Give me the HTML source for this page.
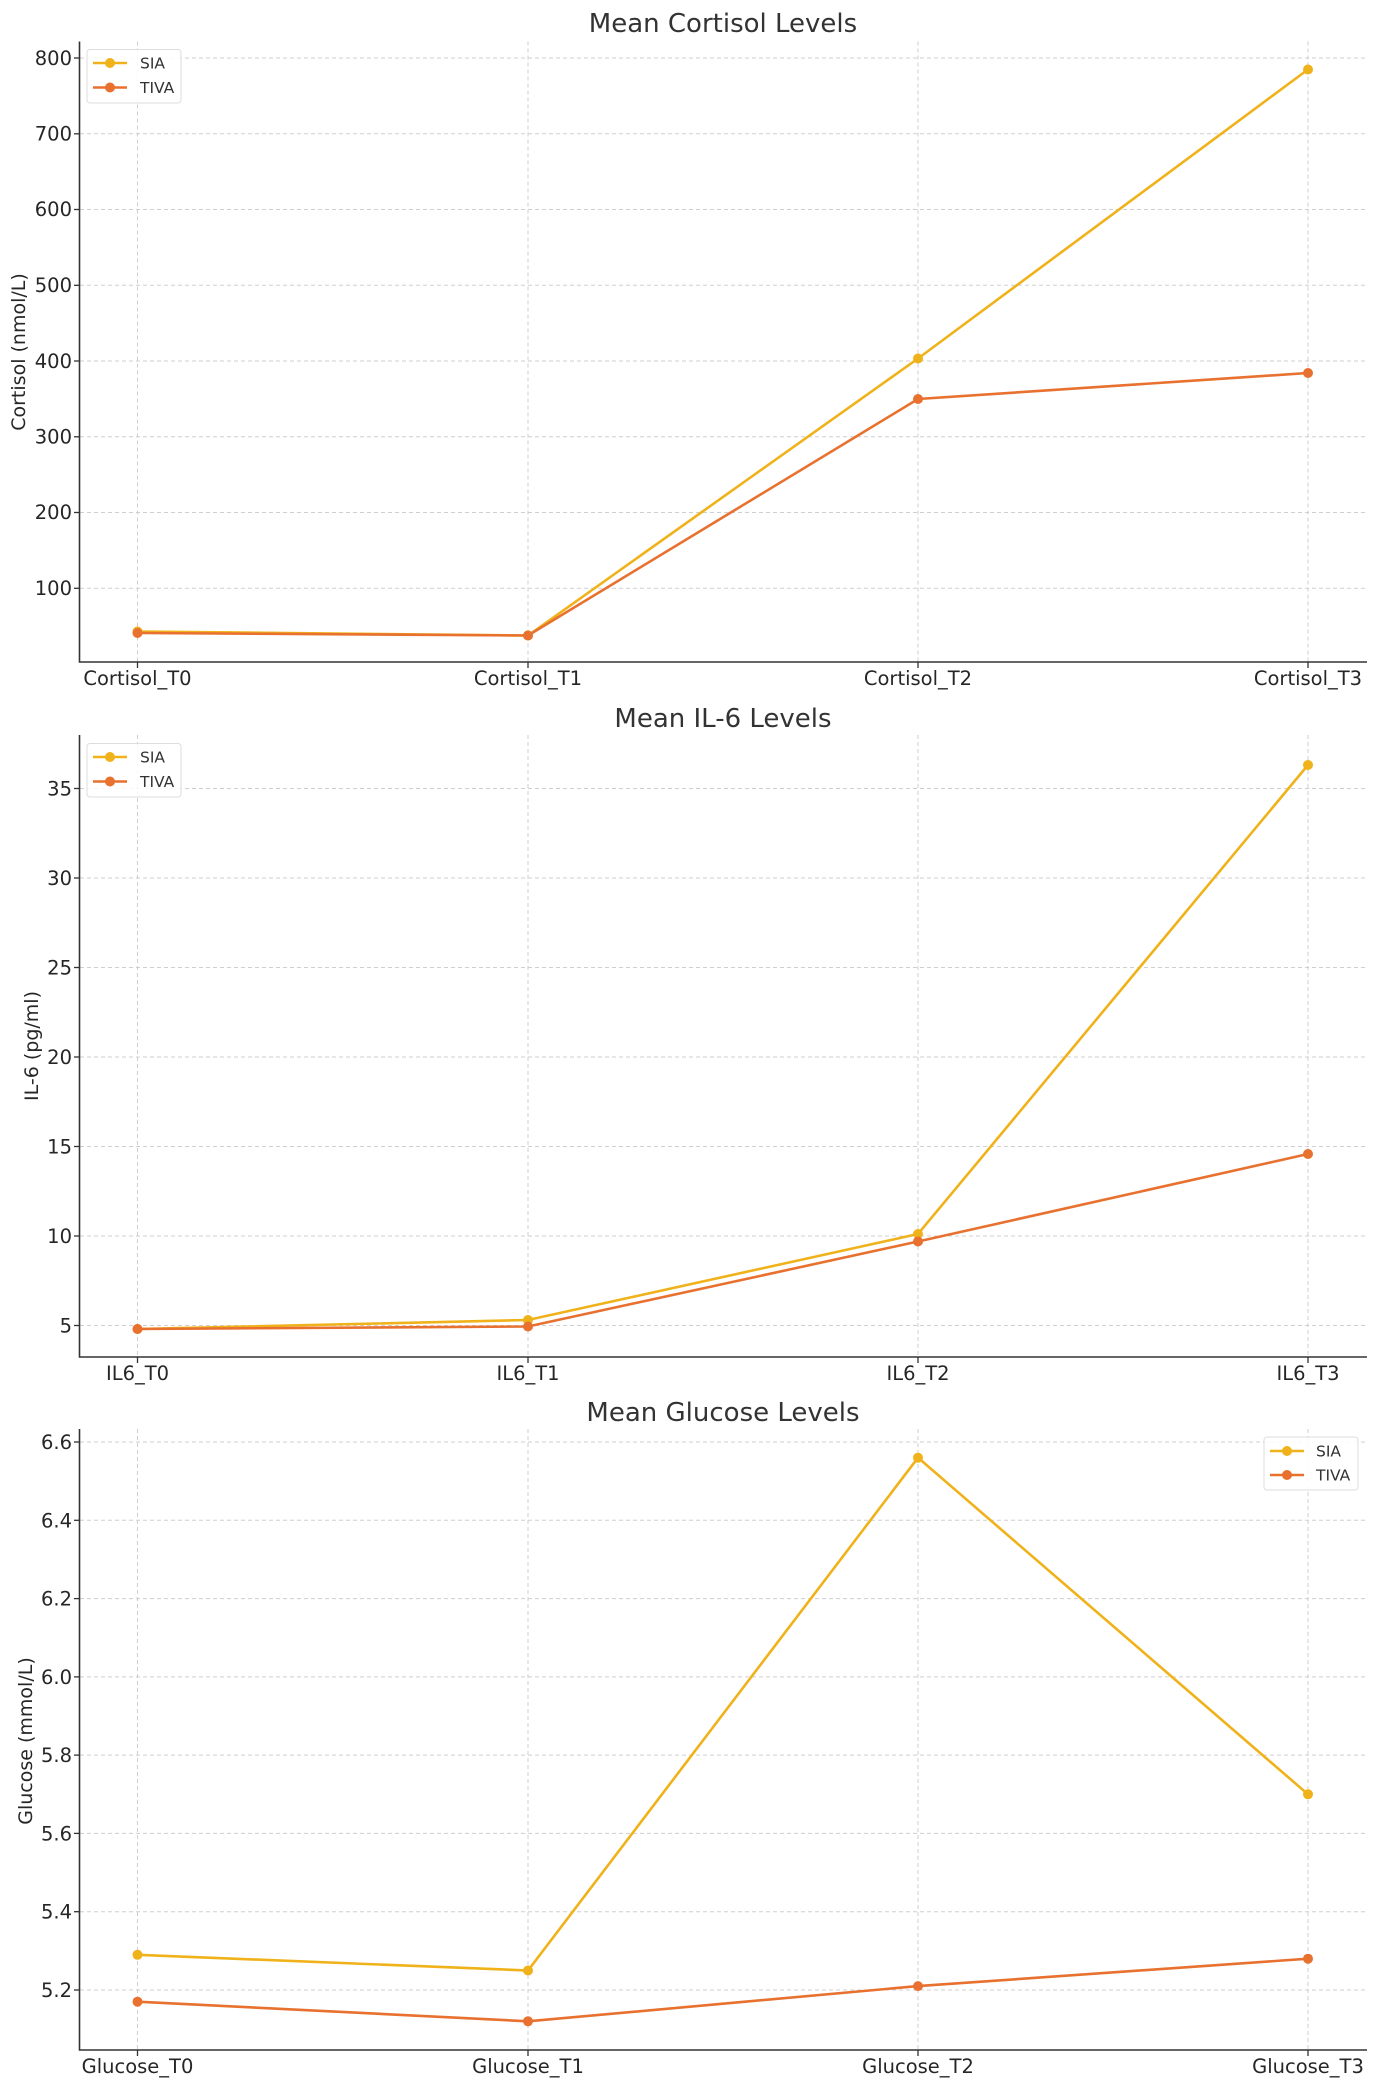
<!DOCTYPE html>
<html><head><meta charset="utf-8"><style>
html,body{margin:0;padding:0;background:#fff;}
svg{display:block;font-family:"DejaVu Sans","Liberation Sans",sans-serif;}
.tk{font-size:19.5px;fill:#262626;}
.ttl{font-size:26px;fill:#333;}
.yl{font-size:19px;fill:#262626;}
.grid{stroke:#cfcfcf;stroke-width:1;stroke-dasharray:4,3;}
.ax{stroke:#333;stroke-width:1.6;fill:none;}
.sia{stroke:#f0b21a;stroke-width:2.6;fill:none;}
.tiva{stroke:#e8712f;stroke-width:2.6;fill:none;}
.lg{font-size:15.5px;fill:#333;}
</style></head><body>
<svg width="1378" height="2087" viewBox="0 0 1378 2087" xmlns="http://www.w3.org/2000/svg">
<g>
<text class="ttl" x="723" y="32" text-anchor="middle">Mean Cortisol Levels</text>
<g class="grid">
<line x1="80" x2="1367" y1="58" y2="58"/><line x1="80" x2="1367" y1="133.8" y2="133.8"/><line x1="80" x2="1367" y1="209.5" y2="209.5"/><line x1="80" x2="1367" y1="285.3" y2="285.3"/><line x1="80" x2="1367" y1="361" y2="361"/><line x1="80" x2="1367" y1="436.8" y2="436.8"/><line x1="80" x2="1367" y1="512.5" y2="512.5"/><line x1="80" x2="1367" y1="588.3" y2="588.3"/>
<line x1="137.5" x2="137.5" y1="41.5" y2="662"/><line x1="528" x2="528" y1="41.5" y2="662"/><line x1="918" x2="918" y1="41.5" y2="662"/><line x1="1308" x2="1308" y1="41.5" y2="662"/>
</g>
<path class="ax" d="M79.5 41.5 V662 H1367"/>
<g class="tk" text-anchor="end">
<text x="72" y="65">800</text><text x="72" y="140.5">700</text><text x="72" y="216">600</text><text x="72" y="292">500</text><text x="72" y="368">400</text><text x="72" y="443.5">300</text><text x="72" y="519">200</text><text x="72" y="595">100</text>
</g>
<g stroke="#333" stroke-width="1.3"><line x1="74" x2="79.5" y1="58" y2="58"/><line x1="74" x2="79.5" y1="133.8" y2="133.8"/><line x1="74" x2="79.5" y1="209.5" y2="209.5"/><line x1="74" x2="79.5" y1="285.3" y2="285.3"/><line x1="74" x2="79.5" y1="361" y2="361"/><line x1="74" x2="79.5" y1="436.8" y2="436.8"/><line x1="74" x2="79.5" y1="512.5" y2="512.5"/><line x1="74" x2="79.5" y1="588.3" y2="588.3"/>
<line x1="137.5" x2="137.5" y1="662" y2="668"/><line x1="528" x2="528" y1="662" y2="668"/><line x1="918" x2="918" y1="662" y2="668"/><line x1="1308" x2="1308" y1="662" y2="668"/></g>
<g class="tk" text-anchor="middle"><text x="137.5" y="685">Cortisol_T0</text><text x="528" y="685">Cortisol_T1</text><text x="918" y="685">Cortisol_T2</text><text x="1308" y="685">Cortisol_T3</text></g>
<text class="yl" transform="translate(25,352) rotate(-90)" text-anchor="middle">Cortisol (nmol/L)</text>
<polyline class="sia" points="137.5,631.5 528,635.5 918,358.5 1308,69.5"/>
<polyline class="tiva" points="137.5,633 528,635.5 918,399 1308,373"/>
<g fill="#f0b21a"><circle cx="137.5" cy="631.5" r="5"/><circle cx="528" cy="635.5" r="5"/><circle cx="918" cy="358.5" r="5"/><circle cx="1308" cy="69.5" r="5"/></g>
<g fill="#e8712f"><circle cx="137.5" cy="633" r="5"/><circle cx="528" cy="635.5" r="5"/><circle cx="918" cy="399" r="5"/><circle cx="1308" cy="373" r="5"/></g>
<rect x="87" y="49.5" width="94" height="53.5" rx="3" fill="#fff" fill-opacity="0.85" stroke="#ddd"/>
<line x1="93" x2="127" y1="63" y2="63" class="sia"/><circle cx="110" cy="63" r="5" fill="#f0b21a"/><text class="lg" x="140" y="68.5">SIA</text>
<line x1="93" x2="127" y1="87.5" y2="87.5" class="tiva"/><circle cx="110" cy="87.5" r="5" fill="#e8712f"/><text class="lg" x="140" y="93">TIVA</text>
</g>
<g>
<text class="ttl" x="723" y="727" text-anchor="middle">Mean IL-6 Levels</text>
<g class="grid">
<line x1="80" x2="1367" y1="788.5" y2="788.5"/><line x1="80" x2="1367" y1="878" y2="878"/><line x1="80" x2="1367" y1="967.5" y2="967.5"/><line x1="80" x2="1367" y1="1057" y2="1057"/><line x1="80" x2="1367" y1="1146.5" y2="1146.5"/><line x1="80" x2="1367" y1="1236" y2="1236"/><line x1="80" x2="1367" y1="1325.5" y2="1325.5"/>
<line x1="137.5" x2="137.5" y1="735" y2="1357"/><line x1="528" x2="528" y1="735" y2="1357"/><line x1="918" x2="918" y1="735" y2="1357"/><line x1="1308" x2="1308" y1="735" y2="1357"/>
</g>
<path class="ax" d="M79.5 735 V1357 H1367"/>
<g class="tk" text-anchor="end">
<text x="72" y="795.5">35</text><text x="72" y="885">30</text><text x="72" y="974.5">25</text><text x="72" y="1064">20</text><text x="72" y="1153.5">15</text><text x="72" y="1243">10</text><text x="72" y="1332.5">5</text>
</g>
<g stroke="#333" stroke-width="1.3"><line x1="74" x2="79.5" y1="788.5" y2="788.5"/><line x1="74" x2="79.5" y1="878" y2="878"/><line x1="74" x2="79.5" y1="967.5" y2="967.5"/><line x1="74" x2="79.5" y1="1057" y2="1057"/><line x1="74" x2="79.5" y1="1146.5" y2="1146.5"/><line x1="74" x2="79.5" y1="1236" y2="1236"/><line x1="74" x2="79.5" y1="1325.5" y2="1325.5"/>
<line x1="137.5" x2="137.5" y1="1357" y2="1363"/><line x1="528" x2="528" y1="1357" y2="1363"/><line x1="918" x2="918" y1="1357" y2="1363"/><line x1="1308" x2="1308" y1="1357" y2="1363"/></g>
<g class="tk" text-anchor="middle"><text x="137.5" y="1380">IL6_T0</text><text x="528" y="1380">IL6_T1</text><text x="918" y="1380">IL6_T2</text><text x="1308" y="1380">IL6_T3</text></g>
<text class="yl" transform="translate(38,1046) rotate(-90)" text-anchor="middle">IL-6 (pg/ml)</text>
<polyline class="sia" points="137.5,1329 528,1320 918,1234 1308,765"/>
<polyline class="tiva" points="137.5,1329 528,1326.5 918,1241.5 1308,1154"/>
<g fill="#f0b21a"><circle cx="137.5" cy="1329" r="5"/><circle cx="528" cy="1320" r="5"/><circle cx="918" cy="1234" r="5"/><circle cx="1308" cy="765" r="5"/></g>
<g fill="#e8712f"><circle cx="137.5" cy="1329" r="5"/><circle cx="528" cy="1326.5" r="5"/><circle cx="918" cy="1241.5" r="5"/><circle cx="1308" cy="1154" r="5"/></g>
<rect x="87" y="743.5" width="94" height="53.5" rx="3" fill="#fff" fill-opacity="0.85" stroke="#ddd"/>
<line x1="93" x2="127" y1="757" y2="757" class="sia"/><circle cx="110" cy="757" r="5" fill="#f0b21a"/><text class="lg" x="140" y="762.5">SIA</text>
<line x1="93" x2="127" y1="781.5" y2="781.5" class="tiva"/><circle cx="110" cy="781.5" r="5" fill="#e8712f"/><text class="lg" x="140" y="787">TIVA</text>
</g>
<g>
<text class="ttl" x="723" y="1421" text-anchor="middle">Mean Glucose Levels</text>
<g class="grid">
<line x1="80" x2="1367" y1="1442" y2="1442"/><line x1="80" x2="1367" y1="1520.3" y2="1520.3"/><line x1="80" x2="1367" y1="1598.6" y2="1598.6"/><line x1="80" x2="1367" y1="1676.9" y2="1676.9"/><line x1="80" x2="1367" y1="1755.1" y2="1755.1"/><line x1="80" x2="1367" y1="1833.4" y2="1833.4"/><line x1="80" x2="1367" y1="1911.7" y2="1911.7"/><line x1="80" x2="1367" y1="1990" y2="1990"/>
<line x1="137.5" x2="137.5" y1="1429" y2="2050"/><line x1="528" x2="528" y1="1429" y2="2050"/><line x1="918" x2="918" y1="1429" y2="2050"/><line x1="1308" x2="1308" y1="1429" y2="2050"/>
</g>
<path class="ax" d="M79.5 1429 V2050 H1367"/>
<g class="tk" text-anchor="end">
<text x="72" y="1449">6.6</text><text x="72" y="1527.5">6.4</text><text x="72" y="1605.5">6.2</text><text x="72" y="1684">6.0</text><text x="72" y="1762">5.8</text><text x="72" y="1840.5">5.6</text><text x="72" y="1918.5">5.4</text><text x="72" y="1997">5.2</text>
</g>
<g stroke="#333" stroke-width="1.3"><line x1="74" x2="79.5" y1="1442" y2="1442"/><line x1="74" x2="79.5" y1="1520.3" y2="1520.3"/><line x1="74" x2="79.5" y1="1598.6" y2="1598.6"/><line x1="74" x2="79.5" y1="1676.9" y2="1676.9"/><line x1="74" x2="79.5" y1="1755.1" y2="1755.1"/><line x1="74" x2="79.5" y1="1833.4" y2="1833.4"/><line x1="74" x2="79.5" y1="1911.7" y2="1911.7"/><line x1="74" x2="79.5" y1="1990" y2="1990"/>
<line x1="137.5" x2="137.5" y1="2050" y2="2056"/><line x1="528" x2="528" y1="2050" y2="2056"/><line x1="918" x2="918" y1="2050" y2="2056"/><line x1="1308" x2="1308" y1="2050" y2="2056"/></g>
<g class="tk" text-anchor="middle"><text x="137.5" y="2073">Glucose_T0</text><text x="528" y="2073">Glucose_T1</text><text x="918" y="2073">Glucose_T2</text><text x="1308" y="2073">Glucose_T3</text></g>
<text class="yl" transform="translate(32,1741) rotate(-90)" text-anchor="middle">Glucose (mmol/L)</text>
<polyline class="sia" points="137.5,1954.8 528,1970.5 918,1457.7 1308,1794.3"/>
<polyline class="tiva" points="137.5,2001.7 528,2021.3 918,1986.1 1308,1958.7"/>
<g fill="#f0b21a"><circle cx="137.5" cy="1954.8" r="5"/><circle cx="528" cy="1970.5" r="5"/><circle cx="918" cy="1457.7" r="5"/><circle cx="1308" cy="1794.3" r="5"/></g>
<g fill="#e8712f"><circle cx="137.5" cy="2001.7" r="5"/><circle cx="528" cy="2021.3" r="5"/><circle cx="918" cy="1986.1" r="5"/><circle cx="1308" cy="1958.7" r="5"/></g>
<rect x="1264" y="1437" width="94" height="53" rx="3" fill="#fff" fill-opacity="0.85" stroke="#ddd"/>
<line x1="1270" x2="1304" y1="1451" y2="1451" class="sia"/><circle cx="1287" cy="1451" r="5" fill="#f0b21a"/><text class="lg" x="1316" y="1456.5">SIA</text>
<line x1="1270" x2="1304" y1="1475" y2="1475" class="tiva"/><circle cx="1287" cy="1475" r="5" fill="#e8712f"/><text class="lg" x="1316" y="1480.5">TIVA</text>
</g>
</svg>
</body></html>
